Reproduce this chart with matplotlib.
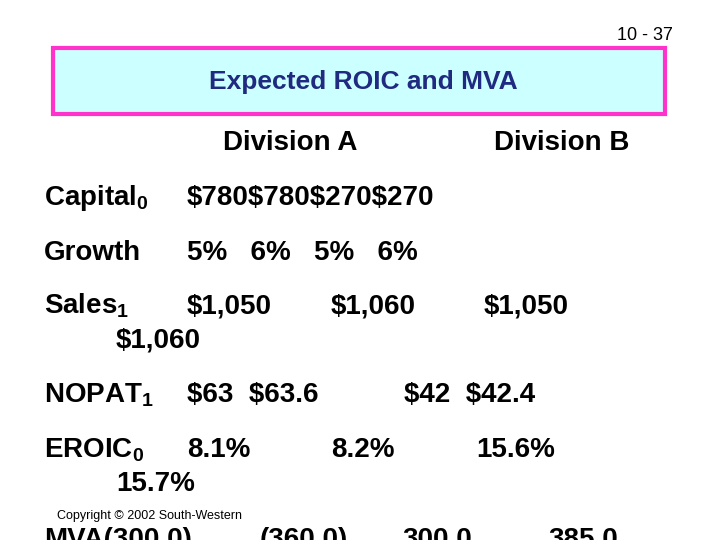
import matplotlib
matplotlib.use("Agg")
import matplotlib.pyplot as plt
from matplotlib.patches import Rectangle

plt.rcParams['font.family'] = ['Liberation Sans', 'DejaVu Sans']
plt.rcParams['mathtext.fontset'] = 'custom'
plt.rcParams['mathtext.rm'] = 'Liberation Sans:bold'
plt.rcParams['mathtext.bf'] = 'Liberation Sans:bold'

slide_no = "10 - 37"
title = "Expected ROIC and MVA"
headers = ["Division A", "Division B"]
row_labels = ["Capital$_0$", "Growth", "Sales$_1$", "NOPAT$_1$", "EROIC$_0$", "MVA"]
capital = ["$780$780$270$270"]
growth = ["5%   6%   5%   6%"]
sales = ["$1,050", "$1,060", "$1,050", "$1,060"]
nopat = ["$63  $63.6", "$42  $42.4"]
eroic = ["8.1%", "8.2%", "15.6%", "15.7%"]
mva = ["MVA(300.0)", "(360.0)", "300.0", "385.0"]
copyright_txt = "Copyright © 2002 South-Western"

W, H = 720, 540
fig = plt.figure(figsize=(7.2, 5.4), dpi=100)
ax = fig.add_axes([0, 0, 1, 1])
ax.set_xlim(0, W); ax.set_ylim(H, 0); ax.axis('off')

ax.add_patch(Rectangle((53, 48), 612, 66, facecolor='#ccffff', edgecolor='#ff33cc', lw=3))
ax.text(363, 82, title, color='#1f2a80', fontsize=19, fontweight='bold', ha='center', va='center')
ax.text(673, 35, slide_no, fontsize=13, ha='right', va='center')

fs = 20
def t(x, y, s, size=fs, ha='left', math=False):
    if not math:
        s = s.replace('$', r'\$')
    ax.text(x, y, s, fontsize=size, fontweight='bold', ha=ha, va='center', color='black')

t(290, 143, headers[0], ha='center')
t(562, 143, headers[1], ha='center')

t(44, 198, row_labels[0], math=True); t(187, 198, capital[0])
t(44, 253, row_labels[1], math=True); t(187, 253, growth[0])
t(44, 306, row_labels[2], math=True)
for x, y, s in zip([187, 331, 484, 116], [306, 306, 306, 341], sales):
    t(x, y, s)
t(44, 395, row_labels[3], math=True)
for x, s in zip([187, 404], nopat):
    t(x, 395, s)
t(44, 450, row_labels[4], math=True)
for x, y, s in zip([187, 331, 476, 116], [450, 450, 450, 484], eroic):
    t(x, y, s)
for x, s in zip([44, 260, 402, 548], mva):
    t(x, 540, s)
ax.text(57, 516, copyright_txt, fontsize=9, va='center')

fig.savefig("out.png", dpi=100)
